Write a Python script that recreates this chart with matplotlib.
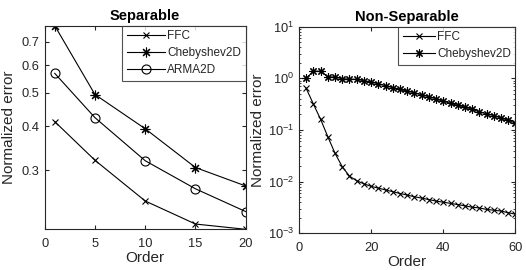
import numpy as np
import matplotlib
matplotlib.use("Agg")
import matplotlib.pyplot as plt
from matplotlib.ticker import LogLocator, FixedLocator, NullLocator, FormatStrFormatter

# --- data ---
sep_order = [1, 5, 10, 15, 20]
sep_ffc = [0.413, 0.320, 0.2445, 0.210, 0.2028]
sep_cheb = [0.778, 0.494, 0.394, 0.305, 0.270]
sep_arma = [0.568, 0.424, 0.319, 0.265, 0.228]

nsep_order = list(range(2, 61, 2))
nsep_ffc = [0.64, 0.318, 0.161, 0.074, 0.0353, 0.0194, 0.0128, 0.0104, 0.0091, 0.0081,
            0.0075, 0.0069, 0.0064, 0.0059, 0.0055, 0.0051, 0.0048, 0.0045, 0.0042, 0.0040,
            0.0038, 0.0036, 0.0034, 0.0032, 0.0031, 0.0029, 0.0028, 0.0027, 0.0025, 0.00235]
nsep_cheb = [1.00, 1.38, 1.38, 1.07, 1.06, 0.98, 0.97, 0.96, 0.90, 0.85,
             0.78, 0.72, 0.66, 0.61, 0.57, 0.52, 0.48, 0.44, 0.40, 0.36,
             0.33, 0.30, 0.28, 0.25, 0.225, 0.205, 0.19, 0.17, 0.155, 0.135]

GREY = "#262626"

plt.rcParams.update({
    "font.family": ["Liberation Sans", "DejaVu Sans"],
    "text.color": GREY,
    "axes.labelcolor": GREY,
    "axes.edgecolor": GREY,
    "xtick.color": GREY,
    "ytick.color": GREY,
    "xtick.direction": "in",
    "ytick.direction": "in",
    "xtick.top": True,
    "ytick.right": True,
    "xtick.major.size": 3,
    "ytick.major.size": 3,
    "xtick.minor.size": 1.5,
    "ytick.minor.size": 1.5,
    "xtick.labelsize": 9.3,
    "ytick.labelsize": 9.3,
    "axes.linewidth": 0.8,
    "axes.labelsize": 11,
})

ASTER = (8, 2, 0)
LW = 0.8

fig = plt.figure(figsize=(5.26, 2.70), dpi=100)
ax1 = fig.add_axes([0.0850, 0.1507, 0.3821, 0.754])
ax2 = fig.add_axes([0.5684, 0.1359, 0.4116, 0.765])

# --- Separable ---
ax1.plot(sep_order, sep_ffc, color="k", lw=LW, marker="x", ms=5, mew=0.8, label="FFC")
ax1.plot(sep_order, sep_cheb, color="k", lw=LW, marker=ASTER, ms=7, mew=0.8, label="Chebyshev2D")
ax1.plot(sep_order, sep_arma, color="k", lw=LW, marker="o", ms=6.5, mew=0.8,
         mfc="none", label="ARMA2D")
ax1.set_yscale("log")
ax1.set_xlim(0, 20)
ax1.set_ylim(min(sep_ffc), max(sep_cheb))
ax1.yaxis.set_major_locator(FixedLocator([0.3, 0.4, 0.5, 0.6, 0.7]))
ax1.yaxis.set_major_formatter(FormatStrFormatter("%.1f"))
ax1.yaxis.set_minor_locator(NullLocator())
ax1.set_xticks([0, 5, 10, 15, 20])
ax1.tick_params(axis="x", pad=6)
ax1.set_title("Separable", fontsize=10.5, fontweight="bold", pad=4, color="k")
ax1.set_xlabel("Order", labelpad=1)
ax1.set_ylabel("Normalized error", labelpad=4)
leg = ax1.legend(loc="upper right", borderaxespad=0, fancybox=False, edgecolor=GREY,
                 fontsize=8.5, handlelength=3.2, handletextpad=0.2, labelspacing=0.4,
                 borderpad=0.4)
leg.get_frame().set_linewidth(0.8)

# --- Non-Separable ---
ax2.plot(nsep_order, nsep_ffc, color="k", lw=LW, marker="x", ms=4.5, mew=0.8, label="FFC")
ax2.plot(nsep_order, nsep_cheb, color="k", lw=LW, marker=ASTER, ms=6, mew=0.8, label="Chebyshev2D")
ax2.set_yscale("log")
ax2.set_xlim(0, 60)
ax2.set_ylim(1e-3, 1e1)
ax2.yaxis.set_major_locator(LogLocator(base=10, numticks=10))
ax2.yaxis.set_minor_locator(LogLocator(base=10, subs=np.arange(2, 10), numticks=10))
ax2.set_xticks([0, 20, 40, 60])
ax2.tick_params(axis="x", pad=6)
ax2.set_title("Non-Separable", fontsize=10.5, fontweight="bold", pad=4, color="k")
ax2.set_xlabel("Order", labelpad=1)
ax2.set_ylabel("Normalized error", labelpad=2)
leg = ax2.legend(loc="upper right", borderaxespad=0, fancybox=False, edgecolor=GREY,
                 fontsize=8.5, handlelength=2.7, handletextpad=0.2, labelspacing=0.4,
                 borderpad=0.4)
leg.get_frame().set_linewidth(0.8)

fig.savefig("out.png", dpi=100, facecolor="white")
